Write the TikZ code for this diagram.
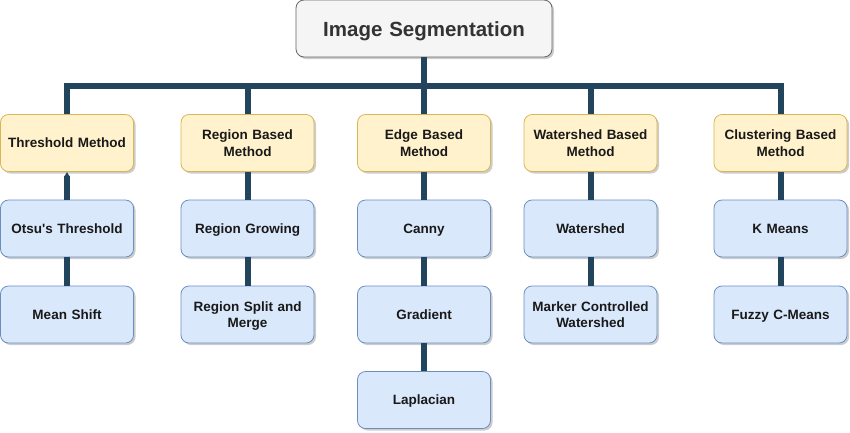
\documentclass[tikz,border=0pt]{standalone}
\usepackage{fontspec}
\setmainfont{Liberation Sans}
\usepackage{tikz}
\usetikzlibrary{shadows,arrows.meta}
\definecolor{linkblue}{HTML}{23445D}
\definecolor{methodfill}{HTML}{FFF2CC}
\definecolor{methoddraw}{HTML}{D6B656}
\definecolor{algofill}{HTML}{DAE8FC}
\definecolor{algodraw}{HTML}{6C8EBF}
\definecolor{rootfill}{HTML}{F5F5F5}
\definecolor{rootdraw}{HTML}{666666}
\tikzset{
	box/.style={draw, line width=0.8pt, rounded corners=8pt, minimum width=133pt, minimum height=57pt, text width=125pt, align=center, font=\fontsize{13.5}{16.5}\selectfont\bfseries, text=black!90, execute at begin node=\rule{0pt}{14.5pt}, execute at end node=\strut, drop shadow={shadow xshift=2pt, shadow yshift=-2pt, opacity=0.4, fill=black!50}},
	method/.style={box, fill=methodfill, draw=methoddraw},
	algo/.style={box, fill=algofill, draw=algodraw},
	root/.style={box, fill=rootfill, draw=rootdraw, minimum width=256pt, text width=240pt, font=\fontsize{20.5}{24}\selectfont\bfseries, text=black!80, execute at begin node=\rule{0pt}{24pt}},
	link/.style={draw=linkblue, line width=6pt}
}
\begin{document}
\begin{tikzpicture}[x=1pt, y=-1pt]
			%%%%% START %%%%%
			\useasboundingbox (0,0) rectangle (850,432);
			
			\node[root] (root) at (424, 28.5) {Image Segmentation};
			
			\node[method] (thr) at (67, 143) {Threshold Method};
			\node[method] (reg) at (247.5, 143) {Region Based\\Method};
			\node[method] (edg) at (424, 143) {Edge Based\\Method};
			\node[method] (wat) at (590.5, 143) {Watershed Based\\Method};
			\node[method] (clu) at (780.5, 143) {Clustering Based\\Method};
			
			\node[algo] (otsu) at (67, 228.5) {Otsu\textquotesingle s Threshold};
			\node[algo] (shift) at (67, 314.5) {Mean Shift};
			
			\node[algo] (grow) at (247.5, 228.5) {Region Growing};
			\node[algo] (split) at (247.5, 314.5) {Region Split and\\Merge};
			
			\node[algo] (canny) at (424, 228.5) {Canny};
			\node[algo] (grad) at (424, 314.5) {Gradient};
			\node[algo] (lap) at (424, 400) {Laplacian};
			
			\node[algo] (ws) at (590.5, 228.5) {Watershed};
			\node[algo] (mcws) at (590.5, 314.5) {Marker Controlled\\Watershed};
			
			\node[algo] (km) at (780.5, 228.5) {K Means};
			\node[algo] (fcm) at (780.5, 314.5) {Fuzzy C-Means};
			
			% connectors
			\coordinate (bus) at (424, 86);
			\draw[link] (root) -- (bus);
			\foreach \n in {thr, reg, edg, wat, clu}
				\draw[link] (bus) -| (\n.north);
			
			\draw[link, -{Latex[length=5pt, width=7pt]}] (otsu) -- (thr);
			\draw[link] (otsu) -- (shift);
			\draw[link] (reg) -- (grow);
			\draw[link] (grow) -- (split);
			\draw[link] (edg) -- (canny);
			\draw[link] (canny) -- (grad);
			\draw[link] (grad) -- (lap);
			\draw[link] (wat) -- (ws);
			\draw[link] (ws) -- (mcws);
			\draw[link] (clu) -- (km);
			\draw[link] (km) -- (fcm);
			
			%%%%% END %%%%%
\end{tikzpicture}
\end{document}
